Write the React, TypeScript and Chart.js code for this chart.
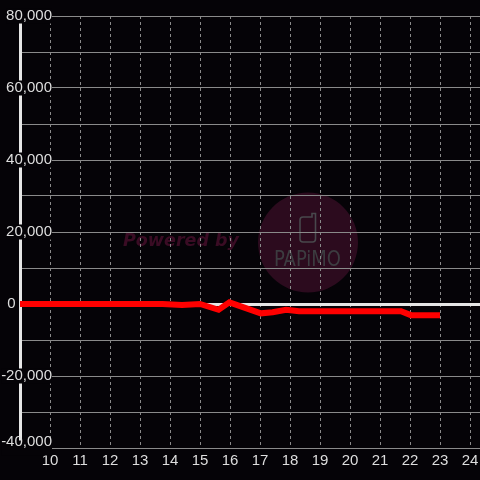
import React, { useEffect, useRef } from 'react';
import { Chart, registerables } from 'chart.js';

Chart.register(...registerables);

// ---- data ----
const hours = [8.5, 13.75, 14.4, 15.0, 15.62, 15.98, 17.03, 17.42, 17.87, 18.3, 21.7, 22.03, 23.0];
const balance = [0, 0, -300, 0, -1600, 450, -2600, -2300, -1600, -2000, -2000, -3100, -3100];
const xTickValues = [10, 11, 12, 13, 14, 15, 16, 17, 18, 19, 20, 21, 22, 23, 24];
const yLabelValues = [80000, 60000, 40000, 20000, 0, -20000, -40000];
const xMin = 9;
const xMax = 24 + 1 / 3;
const yMin = -40000;
const yMax = 80000;
const yStep = 10000;

const BG = '#050307';
const GRID = '#8a8a8a';
const TEXT = '#dedede';
const AXIS = '#e6e6e6';
const FONT = '"Liberation Sans", Arial, sans-serif';

const fmt = (v: number) => v.toLocaleString('en-US');

const backgroundPlugin = {
  id: 'bgWatermark',
  beforeDraw(chart: any) {
    const { ctx, width, height } = chart;
    ctx.save();
    ctx.fillStyle = BG;
    ctx.fillRect(0, 0, width, height);

    // watermark circle
    ctx.fillStyle = '#2c0b1e';
    ctx.beginPath();
    ctx.arc(308, 242.5, 50, 0, Math.PI * 2);
    ctx.fill();

    // "Powered by"
    ctx.fillStyle = '#3a0c24';
    ctx.font = 'italic bold 17.5px "DejaVu Sans", sans-serif';
    ctx.textBaseline = 'alphabetic';
    ctx.textAlign = 'left';
    ctx.fillText('Powered by', 123, 246);

    // phone icon
    ctx.strokeStyle = '#48484c';
    ctx.lineWidth = 1.6;
    ctx.beginPath();
    ctx.moveTo(303, 217);
    ctx.lineTo(312, 217);
    ctx.lineTo(312, 213.5);
    ctx.lineTo(315.5, 213.5);
    ctx.lineTo(315.5, 239);
    ctx.quadraticCurveTo(315.5, 242, 312.5, 242);
    ctx.lineTo(303, 242);
    ctx.quadraticCurveTo(300, 242, 300, 239);
    ctx.lineTo(300, 220);
    ctx.quadraticCurveTo(300, 217, 303, 217);
    ctx.stroke();

    // PAPiMO
    ctx.fillStyle = '#3c3c40';
    ctx.font = '22px "DejaVu Sans Condensed", "DejaVu Sans", sans-serif';
    ctx.fillText('PAPiMO', 274, 266, 67);
    ctx.restore();
  },
};

export default function App() {
  const ref = useRef<HTMLCanvasElement | null>(null);

  useEffect(() => {
    document.body.style.margin = '0';
    document.body.style.background = BG;
    const canvas = ref.current;
    if (!canvas) return;

    const labeled = (v: number) => yLabelValues.includes(v);
    const bottomLabel = fmt(yMin);

    const chart = new Chart(canvas, {
      type: 'line',
      data: {
        datasets: [
          {
            data: hours.map((h, i) => ({ x: h, y: balance[i] })),
            borderColor: '#ff0000',
            borderWidth: 6,
            pointRadius: 0,
            pointHoverRadius: 0,
            tension: 0,
            fill: false,
          },
        ],
      },
      options: {
        responsive: false,
        animation: false,
        events: [],
        layout: { padding: { top: 16, left: 0, right: 0, bottom: 0 } },
        plugins: {
          legend: { display: false },
          tooltip: { enabled: false },
          title: { display: false },
        },
        scales: {
          x: {
            type: 'linear',
            min: xMin,
            max: xMax,
            afterBuildTicks: (scale: any) => {
              scale.ticks = xTickValues.map((v) => ({ value: v }));
            },
            afterFit: (scale: any) => {
              scale.height = 32;
              scale.paddingLeft = 0;
              scale.paddingRight = 0;
            },
            grid: {
              color: GRID,
              lineWidth: 1,
              drawTicks: false,
            },
            border: { display: false, dash: [3, 3] },
            ticks: {
              autoSkip: false,
              maxRotation: 0,
              padding: 4,
              color: TEXT,
              font: { family: FONT, size: 15 },
              callback: (v: any) => String(v),
            },
          },
          y: {
            type: 'linear',
            min: yMin,
            max: yMax,
            afterFit: (scale: any) => {
              scale.width = 20;
              scale.paddingTop = 0;
              scale.paddingBottom = 0;
              // let the labels overlap the plot area (no clipping to the 20px axis box)
              scale._computeLabelArea = () => undefined;
              if (!scale.__shiftPatched) {
                const proto = Object.getPrototypeOf(scale);
                scale.getLabelItems = function (area: any) {
                  const items = proto.getLabelItems.call(this, area);
                  return items.map((it: any) =>
                    it.label === bottomLabel ? { ...it, textOffset: it.textOffset - 6.3 } : it
                  );
                };
                scale.__shiftPatched = true;
              }
            },
            grid: {
              color: (c: any) => (c.tick && c.tick.value === 0 ? AXIS : GRID),
              lineWidth: (c: any) => (c.tick && c.tick.value === 0 ? 3 : 1),
              drawTicks: false,
            },
            border: { display: true, color: AXIS, width: 3 },
            ticks: {
              stepSize: yStep,
              padding: -32,
              color: TEXT,
              font: { family: FONT, size: 15, lineHeight: 1 },
              showLabelBackdrop: (c: any) => labeled(c.tick.value) && c.tick.value !== 0,
              backdropColor: BG,
              backdropPadding: (c: any) =>
                c.tick && c.tick.value === yMin
                  ? { top: 6.5, bottom: -6.5, left: 2, right: 1 }
                  : { top: 0, bottom: 0, left: 2, right: 1 },
              callback: (v: any) => {
                const n = Number(v);
                if (!labeled(n)) return '';
                if (n === 0) return '0        \u2009';
                return fmt(n);
              },
            },
          },
        },
      },
      plugins: [backgroundPlugin],
    });

    return () => chart.destroy();
  }, []);

  return (
    <div style={{ width: 480, height: 480, background: BG }}>
      <canvas ref={ref} width={480} height={480} style={{ display: 'block', width: 480, height: 480 }} />
    </div>
  );
}
